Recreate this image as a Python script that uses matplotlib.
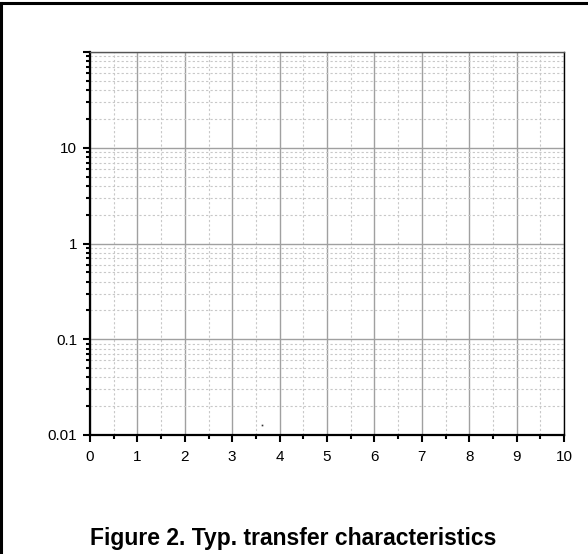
import matplotlib
matplotlib.use("Agg")
import matplotlib.pyplot as plt
from matplotlib.ticker import FixedLocator, LogLocator, NullFormatter, MultipleLocator
from matplotlib.lines import Line2D

# data
x_ticks = [0, 1, 2, 3, 4, 5, 6, 7, 8, 9, 10]
y_ticks = [0.01, 0.1, 1, 10, 100]
y_tick_labels = ["0.01", "0.1", "1", "10", ""]
point_x = [3.62]
point_y = [0.0127]
caption = "Figure 2. Typ. transfer characteristics"

plt.rcParams['font.family'] = ['Liberation Sans', 'DejaVu Sans']

fig = plt.figure(figsize=(5.88, 5.54), dpi=100)
ax = fig.add_axes([90/588, 1-435/554, (564-90)/588, (435-52)/554])

ax.set_xlim(0, 10)
ax.set_yscale('log')
ax.set_ylim(0.01, 100)

ax.plot(point_x, point_y, 's', ms=1.2, color='#333333', mew=0, zorder=5)

ax.set_xticks(x_ticks)
ax.set_xticklabels([str(v) for v in x_ticks])
ax.xaxis.set_minor_locator(MultipleLocator(0.5))
ax.yaxis.set_major_locator(FixedLocator(y_ticks))
ax.set_yticklabels(y_tick_labels)
ax.yaxis.set_minor_locator(LogLocator(base=10, subs=range(2, 10), numticks=20))
ax.yaxis.set_minor_formatter(NullFormatter())

ax.grid(which='major', color='#a0a0a0', linewidth=1.0, linestyle='-')
ax.grid(which='minor', color='#c8c8c8', linewidth=0.8, linestyle=(0, (2, 2)))
ax.set_axisbelow(True)

ax.tick_params(which='major', direction='out', length=5, width=1.5, labelsize=11, color='black')
ax.tick_params(which='minor', direction='out', length=3, width=1.5, color='black')
ax.tick_params(axis='x', which='major', pad=6)
ax.tick_params(axis='y', which='major', pad=4.3)

for s in ['left', 'bottom']:
    ax.spines[s].set_linewidth(1.6)
    ax.spines[s].set_color('black')
ax.spines['top'].set_linewidth(1.0)
ax.spines['top'].set_color('#555555')
ax.spines['right'].set_linewidth(1.0)
ax.spines['right'].set_color('black')

# outer frame (top and left edges)
fig.add_artist(Line2D([0, 1], [1-3/554, 1-3/554], transform=fig.transFigure, color='black', linewidth=2.2))
fig.add_artist(Line2D([1/588, 1/588], [0, 1-3/554], transform=fig.transFigure, color='black', linewidth=2.2))

fig.text(293/588, 1-545/554, caption, ha='center', va='baseline', fontsize=16.5, fontweight='bold')

fig.savefig("out.png", dpi=100)
